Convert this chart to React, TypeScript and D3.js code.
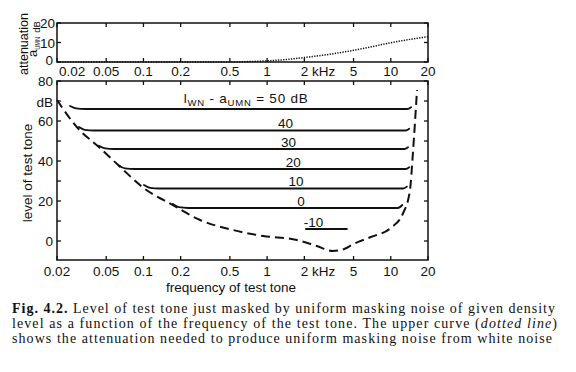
import React, { useEffect, useRef } from 'react';
import * as d3 from 'd3';

// frequency axis (kHz)
const freqTicks = [0.02, 0.05, 0.1, 0.2, 0.5, 1, 2, 5, 10, 20];
const freqTickLabels = ['0.02', '0.05', '0.1', '0.2', '0.5', '1', '2 kHz', '5', '10', '20'];

// level axis (dB)
const levelTicks = [0, 10, 20, 30, 40, 50, 60, 70, 80];
const levelTickLabels = ['0', '20', '40', '60', '80'];
const levelLabelValues = [0, 20, 40, 60, 80];

// attenuation axis (dB)
const attenTicks = [0, 10, 20];
const attenTickLabels = ['0', '10', '20'];

// threshold in quiet (dashed), [kHz, dB]
const quietThreshold: [number, number][] = [
  [0.02, 70.5], [0.0289, 57], [0.0445, 46.5], [0.065, 37], [0.098, 27],
  [0.172, 18], [0.287, 10.5], [0.53, 5.5], [0.93, 2.5], [1.74, 0.5],
  [2.52, -2.5], [3.4, -5], [4.2, -4], [5.0, -1.5], [6.9, 2], [10, 6.5],
  [12.6, 14], [14.3, 25.5], [15.1, 44], [16.3, 75.5],
];

// attenuation a_UMN (dotted), [kHz, dB]
const attenuation: [number, number][] = [
  [0.02, 0], [0.1, 0], [0.3, 0], [0.5, 0], [0.7, 0.2], [1, 0.6], [1.5, 1.4],
  [2, 2.3], [3, 3.7], [5, 6], [7, 7.8], [10, 9.9], [14, 11.5], [20, 13],
];

// masked thresholds for l_WN - a_UMN levels, [kHz, dB]
const masked50: [number, number][] = [[0.0255, 67.5], [0.0285, 66.3], [0.034, 66], [13.6, 66], [14.6, 66.9]];
const masked40: [number, number][] = [[0.0301, 57], [0.0335, 55.6], [0.04, 55.25], [13.2, 55.25], [14.1, 56.1]];
const masked30: [number, number][] = [[0.0437, 47.6], [0.049, 46.3], [0.058, 46], [12.9, 46], [13.8, 46.9]];
const masked20: [number, number][] = [[0.0634, 37.8], [0.071, 36.3], [0.085, 36], [13.2, 36], [14.1, 36.9]];
const masked10: [number, number][] = [[0.101, 28], [0.113, 26.6], [0.135, 26.25], [12.6, 26.25], [13.5, 27.2]];
const masked0: [number, number][] = [[0.173, 18.5], [0.193, 16.9], [0.23, 16.5], [11.4, 16.5], [12.4, 18]];
const maskedMinus10: [number, number][] = [[2.06, 6], [4.42, 6]];

const curveLabels = ['40', '30', '20', '10', '0', '-10'];
const curveLabelFreqs = [1.41, 1.49, 1.63, 1.71, 1.88, 2.37];
const curveLabelLevels = [55.25, 46, 36, 26.25, 16.5, 6];

const captionLines = [
  'Level of test tone just masked by uniform masking noise of given density',
  'level as a function of the frequency of the test tone. The upper curve (',
  'shows the attenuation needed to produce uniform masking noise from white noise',
];

const App: React.FC = () => {
  const svgRef = useRef<SVGSVGElement>(null);

  useEffect(() => {
    const svg = d3.select(svgRef.current);
    svg.selectAll('*').remove();

    const sans = 'Liberation Sans, Arial, sans-serif';
    const serif = 'Liberation Serif, Times New Roman, serif';
    const ink = '#111';

    const x = d3.scaleLog().domain([0.02, 20]).range([57, 428]);
    const yTop = d3.scaleLinear().domain([0, 20]).range([62, 23]);
    const yMain = d3.scaleLinear().domain([-9.5, 80]).range([260, 81]);

    // frames
    const frame = (y0: number, y1: number) =>
      svg.append('rect')
        .attr('x', x(0.02)).attr('y', y0)
        .attr('width', x(20) - x(0.02)).attr('height', y1 - y0)
        .attr('fill', 'none').attr('stroke', ink).attr('stroke-width', 1.5);
    frame(yTop(20), yTop(0));
    frame(yMain(80), yMain(-9.5));

    const tickLen = 4;
    const ticks = svg.append('g').attr('stroke', ink).attr('stroke-width', 1.3);
    // x ticks on both panels, top and bottom edges, inward
    [[yTop(20), yTop(0)], [yMain(80), yMain(-9.5)]].forEach(([t, b]) => {
      freqTicks.forEach(f => {
        ticks.append('line').attr('x1', x(f)).attr('x2', x(f)).attr('y1', t).attr('y2', t + tickLen);
        ticks.append('line').attr('x1', x(f)).attr('x2', x(f)).attr('y1', b).attr('y2', b - tickLen);
      });
    });
    levelTicks.forEach(v => {
      ticks.append('line').attr('x1', x(0.02)).attr('x2', x(0.02) + tickLen).attr('y1', yMain(v)).attr('y2', yMain(v));
      ticks.append('line').attr('x1', x(20)).attr('x2', x(20) - tickLen).attr('y1', yMain(v)).attr('y2', yMain(v));
    });
    attenTicks.forEach(v => {
      ticks.append('line').attr('x1', x(0.02)).attr('x2', x(0.02) + tickLen).attr('y1', yTop(v)).attr('y2', yTop(v));
      ticks.append('line').attr('x1', x(20)).attr('x2', x(20) - tickLen).attr('y1', yTop(v)).attr('y2', yTop(v));
    });

    // x tick labels (between panels and below)
    [[76, true], [276, false]].forEach(([baseline, upper]) => {
      freqTicks.forEach((f, i) => {
        const lbl = freqTickLabels[i];
        const isKHz = lbl.includes('kHz');
        // the upper 0.02 is pushed right of the "0" attenuation label
        const shiftFirst = upper && i === 0;
        svg.append('text')
          .attr('x', isKHz ? x(f) - 3.5 : shiftFirst ? x(f) + 2 : x(f))
          .attr('y', baseline as number)
          .attr('text-anchor', isKHz || shiftFirst ? 'start' : 'middle')
          .attr('font-family', sans).attr('font-size', 13.5).attr('fill', ink)
          .text(lbl);
      });
    });

    // y tick labels
    levelLabelValues.forEach((v, i) => {
      svg.append('text')
        .attr('x', 53).attr('y', yMain(v) + 5)
        .attr('text-anchor', 'end')
        .attr('font-family', sans).attr('font-size', 13.5).attr('fill', ink)
        .text(levelTickLabels[i]);
    });
    svg.append('text')
      .attr('x', 53).attr('y', 107)
      .attr('text-anchor', 'end')
      .attr('font-family', sans).attr('font-size', 13.5).attr('fill', ink)
      .text('dB');
    attenTicks.forEach((v, i) => {
      svg.append('text')
        .attr('x', v === 0 ? 53 : 55).attr('y', yTop(v) + (v === 0 ? 3 : 5))
        .attr('text-anchor', 'end')
        .attr('font-family', sans).attr('font-size', 13.5).attr('fill', ink)
        .text(attenTickLabels[i]);
    });

    // axis titles
    svg.append('text')
      .attr('transform', 'translate(32,173) rotate(-90)')
      .attr('text-anchor', 'middle')
      .attr('font-family', sans).attr('font-size', 13.5).attr('fill', ink)
      .text('level of test tone');
    svg.append('text')
      .attr('transform', 'translate(28,44) rotate(-90)')
      .attr('text-anchor', 'middle')
      .attr('font-family', sans).attr('font-size', 13).attr('fill', ink)
      .attr('textLength', 62).attr('lengthAdjust', 'spacingAndGlyphs')
      .text('attenuation');
    // a_UMN and its unit, rotated, stacked up the left side
    const aumn = svg.append('text')
      .attr('transform', 'translate(37,57) rotate(-90)')
      .attr('font-family', sans).attr('font-size', 13).attr('fill', ink);
    aumn.append('tspan').text('a');
    aumn.append('tspan').attr('font-size', 8).attr('dy', 2.5)
      .attr('textLength', 13).attr('lengthAdjust', 'spacingAndGlyphs').text('UMN');
    aumn.append('tspan').attr('font-size', 9.5).attr('dx', 4).text('dB');

    svg.append('text')
      .attr('x', 231).attr('y', 292)
      .attr('text-anchor', 'middle')
      .attr('font-family', sans).attr('font-size', 13.5).attr('fill', ink)
      .text('frequency of test tone');

    // curves
    const mainLine = d3.line<[number, number]>()
      .x(d => x(d[0])).y(d => yMain(d[1]))
      .curve(d3.curveMonotoneX);
    const topLine = d3.line<[number, number]>()
      .x(d => x(d[0])).y(d => yTop(d[1]))
      .curve(d3.curveMonotoneX);

    svg.append('path')
      .attr('d', topLine(attenuation))
      .attr('fill', 'none').attr('stroke', ink)
      .attr('stroke-width', 1.5).attr('stroke-dasharray', '1.3 1.3');

    svg.append('path')
      .attr('d', mainLine(quietThreshold))
      .attr('fill', 'none').attr('stroke', ink)
      .attr('stroke-width', 2).attr('stroke-dasharray', '9 5');

    [masked50, masked40, masked30, masked20, masked10, masked0, maskedMinus10].forEach(pts => {
      svg.append('path')
        .attr('d', mainLine(pts))
        .attr('fill', 'none').attr('stroke', ink)
        .attr('stroke-width', 1.8).attr('stroke-linecap', 'round');
    });

    // curve labels
    const head = svg.append('text')
      .attr('x', x(0.212)).attr('y', yMain(69))
      .attr('font-family', sans).attr('font-size', 13.5).attr('fill', ink)
      .attr('textLength', 124).attr('lengthAdjust', 'spacing');
    head.append('tspan').text('l');
    head.append('tspan').attr('font-size', 9.5).attr('dy', 2.5).text('WN');
    head.append('tspan').attr('dy', -2.5).text(' - a');
    head.append('tspan').attr('font-size', 9.5).attr('dy', 2.5).text('UMN');
    head.append('tspan').attr('dy', -2.5).text('  = 50 dB');

    curveLabels.forEach((lbl, i) => {
      svg.append('text')
        .attr('x', x(curveLabelFreqs[i])).attr('y', yMain(curveLabelLevels[i]) - 2.5)
        .attr('text-anchor', 'middle')
        .attr('font-family', sans).attr('font-size', 13.5).attr('fill', ink)
        .text(lbl);
    });

    // caption: one text block, one tspan per line
    const caption = svg.append('text')
      .attr('font-family', serif).attr('font-size', 14).attr('fill', ink);

    const l1 = caption.append('tspan')
      .attr('x', 12).attr('y', 312.5)
      .attr('textLength', 543).attr('lengthAdjust', 'spacing');
    l1.append('tspan').attr('font-weight', 'bold').text('Fig. 4.2. ');
    l1.append('tspan').text(captionLines[0]);

    const l2 = caption.append('tspan')
      .attr('x', 12).attr('y', 327.5)
      .attr('textLength', 545).attr('lengthAdjust', 'spacing');
    l2.append('tspan').text(captionLines[1]);
    l2.append('tspan').attr('font-style', 'italic').text('dotted line');
    l2.append('tspan').text(')');

    caption.append('tspan')
      .attr('x', 12).attr('y', 342.5)
      .attr('textLength', 540).attr('lengthAdjust', 'spacing')
      .text(captionLines[2]);
  }, []);

  return (
    <svg
      ref={svgRef}
      width={576}
      height={372}
      style={{ position: 'absolute', left: 0, top: 0, background: '#fff' }}
    />
  );
};

export default App;
